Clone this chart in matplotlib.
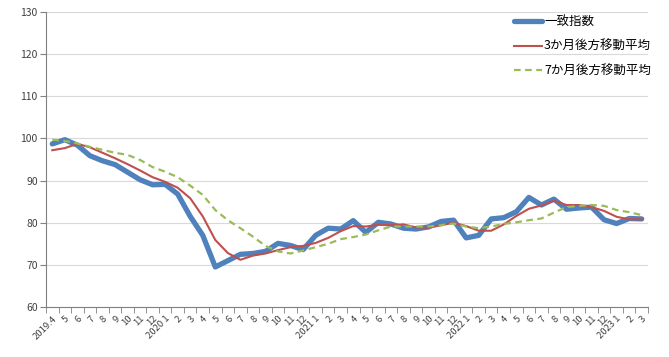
import numpy as np
import matplotlib.pyplot as plt

plt.rcParams["font.family"] = ["Noto Sans CJK JP", "DejaVu Sans"]

# month labels, 2019.4 - 2023.3
month_labels = (
    ["2019.4", "5", "6", "7", "8", "9", "10", "11", "12"]
    + ["2020 1", "2", "3", "4", "5", "6", "7", "8", "9", "10", "11", "12"]
    + ["2021 1", "2", "3", "4", "5", "6", "7", "8", "9", "10", "11", "12"]
    + ["2022 1", "2", "3", "4", "5", "6", "7", "8", "9", "10", "11", "12"]
    + ["2023 1", "2", "3"]
)

coincident = [
    98.7, 99.7, 98.4, 95.9, 94.7, 93.8, 92.0, 90.2, 89.0,
    89.1, 86.8, 81.5, 77.0, 69.5, 71.0, 72.5, 72.7, 73.2, 75.1, 74.6, 73.6,
    77.0, 78.7, 78.5, 80.5, 77.7, 80.1, 79.7, 78.7, 78.5, 79.0, 80.3, 80.6,
    76.4, 77.0, 80.9, 81.2, 82.6, 86.0, 84.2, 85.6, 83.2, 83.5, 83.7, 80.7,
    79.8, 81.0, 80.9,
]

avg_3m = [
    97.2, 97.7, 98.7, 97.9, 96.6, 95.3, 93.9, 92.4, 90.8,
    89.7, 88.3, 85.8, 81.5, 75.9, 72.8, 71.2, 72.2, 72.7, 73.5, 74.2, 74.5,
    75.2, 76.4, 78.0, 79.2, 79.1, 79.5, 79.4, 79.6, 78.9, 78.8, 79.4, 80.0,
    79.2, 78.1, 78.1, 79.6, 81.6, 83.3, 84.1, 85.2, 84.2, 84.2, 83.7, 82.8,
    81.4, 80.8, 80.8,
]

avg_7m = [
    99.7, 99.4, 98.8, 98.0, 97.3, 96.6, 96.1, 94.9, 93.2,
    92.1, 90.8, 88.8, 86.6, 83.0, 80.6, 78.7, 76.7, 74.5, 73.2, 72.7, 73.4,
    74.2, 75.0, 76.1, 76.6, 77.2, 78.2, 79.1, 79.1, 79.1, 79.1, 79.4, 79.8,
    79.1, 78.7, 79.1, 79.7, 80.1, 80.6, 81.0, 82.4, 83.7, 84.0, 84.2, 84.0,
    83.0, 82.5, 81.8,
]

x = np.arange(len(month_labels))

fig = plt.figure(figsize=(6.69, 3.57), dpi=100)
ax = fig.add_axes([46 / 669, 1 - 307 / 357, 602 / 669, 295 / 357])

ax.plot(x, coincident, color="#4F81BD", linewidth=3.8, label="一致指数",
        solid_capstyle="round", zorder=3)
ax.plot(x, avg_3m, color="#C0504D", linewidth=1.5, label="3か月後方移動平均", zorder=4)
ax.plot(x, avg_7m, color="#9BBB59", linewidth=1.6, linestyle=(0, (3, 2)),
        label="7か月後方移動平均", zorder=4)

ax.set_xlim(-0.5, len(x) - 0.5)
ax.set_ylim(60, 130)
ax.set_yticks(np.arange(60, 131, 10))
ax.yaxis.grid(True, color="#D9D9D9", linewidth=0.8)
ax.set_axisbelow(True)

ax.set_xticks(x)
ax.set_xticklabels(month_labels, rotation=45, ha="right", rotation_mode="anchor",
                   fontsize=6.8, color="#404040")
ax.set_xticks(np.arange(-0.5, len(x), 1), minor=True)
ax.tick_params(axis="x", which="major", length=0, pad=5)
ax.tick_params(axis="x", which="minor", length=4, color="#808080")
ax.tick_params(axis="y", length=4, color="#808080", labelsize=7.5,
               labelcolor="#404040", pad=2)

for side in ["top", "right"]:
    ax.spines[side].set_visible(False)
for side in ["left", "bottom"]:
    ax.spines[side].set_color("#808080")

fig.legend(loc="upper left", bbox_to_anchor=(514 / 669, 1 - 15 / 357),
           frameon=False, fontsize=9, handlelength=2.2, handletextpad=0.2,
           labelspacing=0.95, borderpad=0, borderaxespad=0)

fig.savefig("out.png", dpi=100)
